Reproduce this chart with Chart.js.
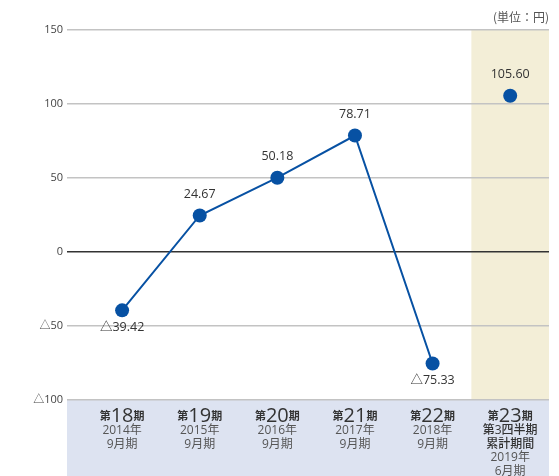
<!DOCTYPE html>
<html>
<head>
<meta charset="utf-8">
<script src="https://cdn.jsdelivr.net/npm/chart.js@4.4.0/dist/chart.umd.min.js"></script>
<style>
  html, body { margin: 0; padding: 0; background: #fff; }
  #wrap { width: 559px; height: 476px; position: relative; }
</style>
</head>
<body>
<div id="wrap"><canvas id="mycanvas" width="559" height="476"></canvas></div>
<script>
// data
var periods = ['18', '19', '20', '21', '22', '23'];
var subLabels = [
  ['2014年', '9月期'],
  ['2015年', '9月期'],
  ['2016年', '9月期'],
  ['2017年', '9月期'],
  ['2018年', '9月期'],
  ['第3四半期', '累計期間', '2019年', '6月期']
];
var eps = [-39.42, 24.67, 50.18, 78.71, -75.33, 105.60];
var yTicks = [150, 100, 50, 0, -50, -100];
var unitLabel = '(単位：円)';

var FONT = "'Open Sans', 'Noto Sans CJK JP', sans-serif";
var CJK = "'Noto Sans CJK JP', sans-serif";
var lineBlue = '#0751a3';

function fmt(v) {
  var s = Math.abs(v).toFixed(2);
  return v < 0 ? '△' + s : s;
}

var points = [];
for (var i = 0; i < eps.length; i++) {
  points.push({ x: i, y: eps[i] });
}

var bgPlugin = {
  id: 'bg',
  beforeDraw: function(chart) {
    var ctx = chart.ctx, ca = chart.chartArea, xs = chart.scales.x;
    ctx.save();
    // bottom label band
    ctx.fillStyle = '#dde3f1';
    ctx.fillRect(ca.left, ca.bottom, ca.right - ca.left, chart.height - ca.bottom);
    // highlighted last column
    var x0 = xs.getPixelForValue(periods.length - 1.5);
    ctx.fillStyle = '#f3eed7';
    ctx.fillRect(x0, ca.top, ca.right - x0, ca.bottom - ca.top);
    ctx.restore();
  },
  afterDraw: function(chart) {
    var ctx = chart.ctx, ca = chart.chartArea, xs = chart.scales.x;
    ctx.save();
    ctx.fillStyle = '#555';
    ctx.textBaseline = 'middle';
    // unit
    ctx.font = '12px ' + CJK;
    ctx.textAlign = 'right';
    ctx.fillText(unitLabel, ca.right, 17);
    // category labels
    for (var i = 0; i < periods.length; i++) {
      var cx = xs.getPixelForValue(i);
      var y1 = 415;
      ctx.fillStyle = '#333';
      ctx.font = 'bold 11px ' + CJK;
      var wa = ctx.measureText('第').width;
      var wc = ctx.measureText('期').width;
      ctx.font = '20px ' + FONT;
      var wb = ctx.measureText(periods[i]).width;
      var sx = cx - (wa + wb + wc) / 2;
      ctx.textAlign = 'left';
      ctx.textBaseline = 'alphabetic';
      ctx.font = 'bold 11px ' + CJK;
      ctx.fillText('第', sx, y1 + 5);
      ctx.font = '20px ' + FONT;
      ctx.fillText(periods[i], sx + wa, y1 + 7);
      ctx.font = 'bold 11px ' + CJK;
      ctx.fillText('期', sx + wa + wb, y1 + 5);
      ctx.textAlign = 'center';
      ctx.textBaseline = 'middle';
      var subs = subLabels[i];
      for (var j = 0; j < subs.length; j++) {
        var bold = subs.length > 2 && j < 2;
        ctx.font = (bold ? '500 ' : '') + '12px ' + FONT;
        ctx.fillStyle = bold ? '#333' : '#555';
        ctx.fillText(subs[j], cx, 431 + j * 13.5);
      }
    }
    ctx.restore();
  },
  afterDatasetsDraw: function(chart) {
    var ctx = chart.ctx, meta = chart.getDatasetMeta(0);
    ctx.save();
    ctx.font = '12.5px ' + FONT;
    ctx.fillStyle = '#333';
    ctx.textAlign = 'center';
    ctx.textBaseline = 'middle';
    meta.data.forEach(function(pt, i) {
      var v = eps[i];
      var y = v >= 0 ? pt.y - 21 : pt.y + 17;
      ctx.fillText(fmt(v), pt.x, y);
    });
    ctx.restore();
  }
};

var ctx = document.getElementById('mycanvas');
var chart = new Chart(ctx, {
  type: 'line',
  data: {
    datasets: [{
      data: points,
      borderColor: lineBlue,
      backgroundColor: lineBlue,
      borderWidth: 2,
      pointRadius: 7,
      pointHoverRadius: 7,
      pointBackgroundColor: lineBlue,
      pointBorderWidth: 0,
      tension: 0,
      segment: {
        borderColor: function(c) { return c.p1DataIndex === eps.length - 1 ? 'rgba(0,0,0,0)' : lineBlue; }
      }
    }]
  },
  options: {
    responsive: false,
    animation: false,
    layout: { padding: { top: 30, right: 10, left: 0, bottom: 0 } },
    plugins: { legend: { display: false }, tooltip: { enabled: false } },
    scales: {
      x: {
        type: 'linear',
        min: -0.71,
        max: periods.length - 0.5,
        grid: { display: false },
        border: { display: false },
        ticks: { display: false },
        afterFit: function(s) { s.height = 76; }
      },
      y: {
        min: -100,
        max: 150,
        afterBuildTicks: function(s) { s.ticks = yTicks.map(function(v) { return { value: v }; }); },
        grid: {
          drawTicks: false,
          color: function(c) { return c.tick && c.tick.value === 0 ? '#333' : '#c3c3c3'; },
          lineWidth: 1.5
        },
        border: { display: false },
        ticks: {
          padding: 4,
          color: '#444',
          font: { size: 11, family: FONT },
          callback: function(v) { return v < 0 ? '△' + Math.abs(v) : String(v); }
        },
        afterFit: function(s) { s.width = 67; }
      }
    }
  },
  plugins: [bgPlugin]
});
</script>
</body>
</html>
